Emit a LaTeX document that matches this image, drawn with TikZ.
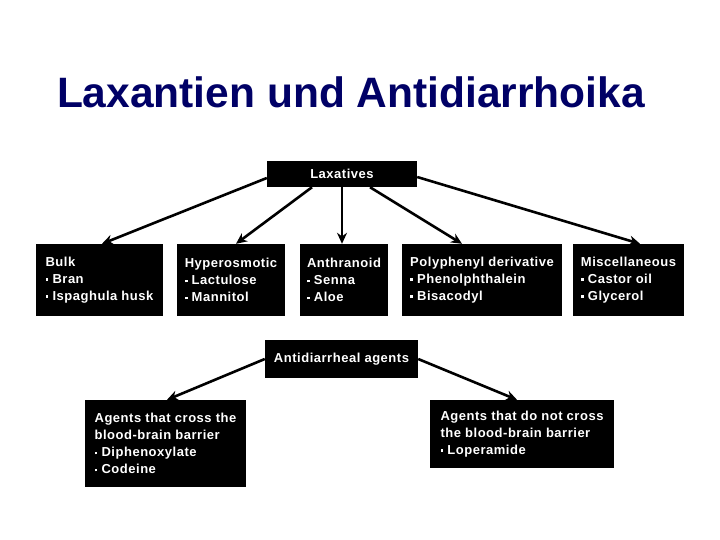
\documentclass[tikz,border=0pt]{standalone}
\usepackage{fontspec}
\usepackage{xcolor}
\usepackage{tikz}
\usetikzlibrary{arrows.meta}
\setmainfont{Liberation Sans}
\newfontfamily\boxfont[LetterSpace=4]{Liberation Sans}
\definecolor{titleblue}{RGB}{0,0,102}
\newcommand{\sqbul}{\rule[2.2pt]{2.8pt}{2.8pt}\ }

\begin{document}
\begin{tikzpicture}[x=1pt, y=-1pt]
  % Define styles
  \tikzstyle{box} = [fill=black, text=white, align=left, inner sep=0pt,
                     font=\boxfont\bfseries\fontsize{13}{17}\selectfont]
  \tikzstyle{edge} = [-{Stealth[length=11pt, width=10pt]}, line width=2.6pt]

  \useasboundingbox (0,0) rectangle (720,540);

  % Title
  \node[anchor=base, text=titleblue, font=\bfseries\fontsize{42.5}{48}\selectfont] (title) at (351,108) {Laxantien und Antidiarrhoika};

  % Laxatives
  \node[box, minimum width=150pt, minimum height=26pt] (lax) at (342,174) {Laxatives};
  \node[box, minimum width=127pt, minimum height=72pt] (bulk) at (99.5,280) {Bulk\\\sqbul Bran\\\sqbul Ispaghula husk};
  \node[box, minimum width=108pt, minimum height=72pt] (hyper) at (231,280) {Hyperosmotic\\\sqbul Lactulose\\\sqbul Mannitol};
  \node[box, minimum width=88pt, minimum height=72pt] (anthr) at (344,280) {Anthranoid\\\sqbul Senna\\\sqbul Aloe};
  \node[box, minimum width=160pt, minimum height=72pt] (poly) at (482,280) {Polyphenyl derivative\\\sqbul Phenolphthalein\\\sqbul Bisacodyl};
  \node[box, minimum width=111pt, minimum height=72pt] (misc) at (628.5,280) {Miscellaneous\\\sqbul Castor oil\\\sqbul Glycerol};

  % Antidiarrheal agents
  \node[box, minimum width=153pt, minimum height=38pt] (anti) at (341.5,359) {Antidiarrheal agents};
  \node[box, minimum width=161pt, minimum height=87pt] (cross) at (165.5,443.5) {Agents that cross the\\blood-brain barrier\\\sqbul Diphenoxylate\\\sqbul Codeine};
  \node[box, minimum width=184pt, minimum height=68pt] (nocross) at (522,434) {Agents that do not cross\\the blood-brain barrier\\\sqbul Loperamide};

  % Edges
  \draw[edge] ([yshift=-4pt]lax.west) -- ([xshift=2.5pt]bulk.north);
  \draw[edge] ([xshift=-30pt]lax.south) -- ([xshift=5pt]hyper.north);
  \draw[edge] (lax.south) -- (lax.south |- anthr.north);
  \draw[edge] ([xshift=28pt]lax.south) -- ([xshift=-20pt]poly.north);
  \draw[edge] ([yshift=-3pt]lax.east) -- ([xshift=11.5pt]misc.north);
  \draw[edge] (anti.west) -- ([xshift=1.5pt]cross.north);
  \draw[edge] (anti.east) -- ([xshift=-5pt]nocross.north);
\end{tikzpicture}
\end{document}
